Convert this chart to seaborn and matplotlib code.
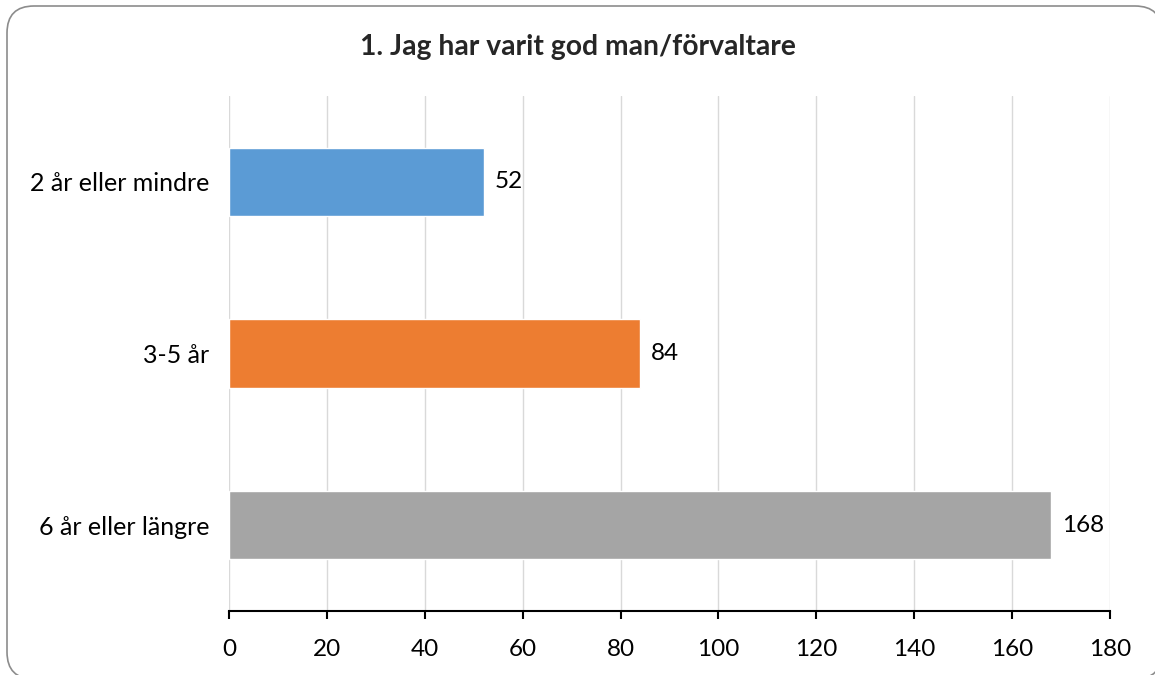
import matplotlib
matplotlib.use("Agg")
import matplotlib.pyplot as plt
import seaborn as sns
import pandas as pd
from matplotlib.patches import FancyBboxPatch
from matplotlib.transforms import IdentityTransform

categories = ["2 år eller mindre", "3-5 år", "6 år eller längre"]
values = [52, 84, 168]
colors = ["#5B9BD5", "#ED7D31", "#A5A5A5"]
title = "1. Jag har varit god man/förvaltare"
xticks = [0, 20, 40, 60, 80, 100, 120, 140, 160, 180]

sns.set_theme(style="white")
plt.rcParams["font.family"] = ["Lato", "DejaVu Sans"]

df = pd.DataFrame({"cat": categories, "val": values})

fig = plt.figure(figsize=(11.55, 6.75), dpi=100)
ax = fig.add_axes([229/1155, 1-611/675, (1110-229)/1155, (611-96)/675])

sns.barplot(data=df, x="val", y="cat", hue="cat", palette=colors, order=categories,
            hue_order=categories, orient="h", width=0.397, saturation=1, legend=False, ax=ax)

for c in ax.containers:
    ax.bar_label(c, padding=8, fontsize=17.5, color="#000000")

ax.set_xlim(0, 180)
ax.set_xticks(xticks)
ax.set_xlabel("")
ax.set_ylabel("")
ax.grid(axis="x", color="#D9D9D9", linewidth=1)
ax.set_axisbelow(True)
for s in ["top", "right", "left"]:
    ax.spines[s].set_visible(False)
ax.spines["bottom"].set_color("#000000")
ax.spines["bottom"].set_linewidth(1.5)
ax.tick_params(axis="x", bottom=True, direction="out", length=6, width=1.5, color="#000000",
               labelsize=17.5, pad=14, labelcolor="#000000")
ax.tick_params(axis="y", left=False, labelsize=18, pad=8, labelcolor="#000000")

fig.text(578/1155, 1-47/675, title, ha="center", va="center", fontsize=20.3, fontweight="bold")

# Chart-area frame: filled white (so Agg does not clip the stroke to the canvas edge)
border = FancyBboxPatch((7, -4), 1155, 673, boxstyle="round,pad=0,rounding_size=27",
                        transform=IdentityTransform(), facecolor="white",
                        edgecolor="#8C8C8C", linewidth=1.2, zorder=-10)
fig.patches.append(border)

fig.savefig("out.png", dpi=100)
